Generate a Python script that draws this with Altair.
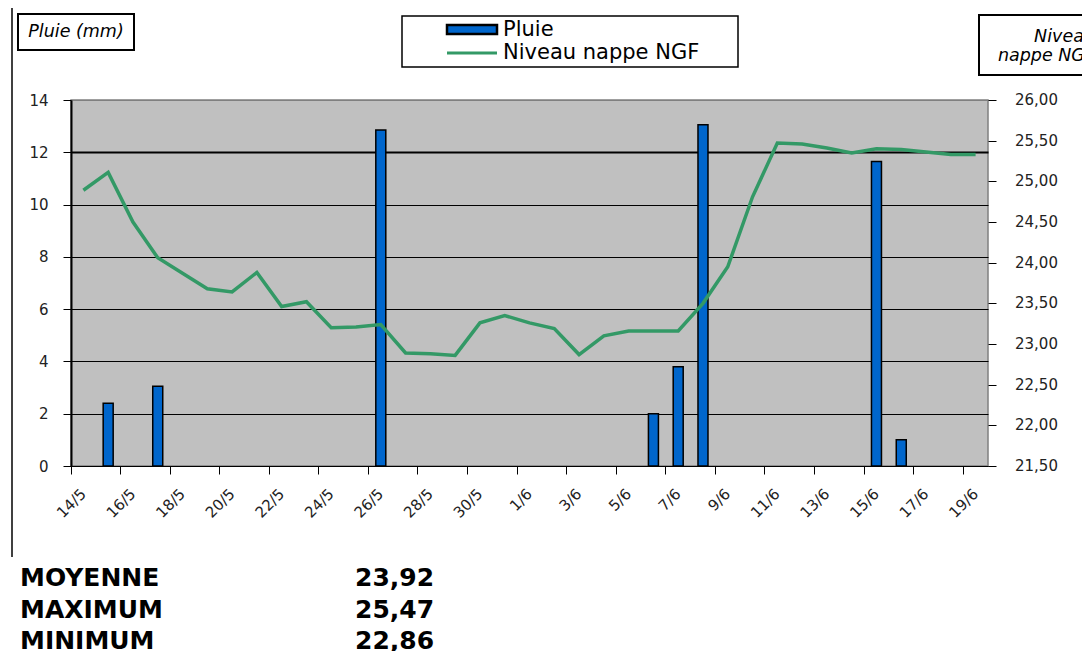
import altair as alt
import pandas as pd

# ---- data ----
dates = ["14/5", "15/5", "16/5", "17/5", "18/5", "19/5", "20/5", "21/5", "22/5",
         "23/5", "24/5", "25/5", "26/5", "27/5", "28/5", "29/5", "30/5", "31/5",
         "1/6", "2/6", "3/6", "4/6", "5/6", "6/6", "7/6", "8/6", "9/6", "10/6",
         "11/6", "12/6", "13/6", "14/6", "15/6", "16/6", "17/6", "18/6", "19/6"]
pluie = [0, 2.4, 0, 3.05, 0, 0, 0, 0, 0,
         0, 0, 0, 12.85, 0, 0, 0, 0, 0,
         0, 0, 0, 0, 0, 2.0, 3.8, 13.05, 0, 0,
         0, 0, 0, 0, 11.65, 1.0, 0, 0, 0]
nappe = [24.89, 25.11, 24.50, 24.06, 23.87, 23.68, 23.64, 23.88, 23.46,
         23.52, 23.20, 23.21, 23.24, 22.89, 22.88, 22.86, 23.26, 23.35,
         23.26, 23.19, 22.87, 23.10, 23.16, 23.16, 23.16, 23.50, 23.95, 24.81,
         25.47, 25.46, 25.41, 25.35, 25.40, 25.39, 25.36, 25.33, 25.33]
left_ticks = [0, 2, 4, 6, 8, 10, 12, 14]
right_ticks = [21.5, 22.0, 22.5, 23.0, 23.5, 24.0, 24.5, 25.0, 25.5, 26.0]
stat_labels = ["MOYENNE", "MAXIMUM", "MINIMUM"]
stat_values = ["23,92", "25,47", "22,86"]
series_names = ["Pluie", "Niveau nappe NGF"]

df = pd.DataFrame({"date": dates, "pluie": pluie, "nappe": nappe})
rt = pd.DataFrame({"v": right_ticks,
                   "lab": [f"{v:.2f}".replace(".", ",") for v in right_ticks]})
one = pd.DataFrame({"k": [0]})

W, H = 917, 366
FONT = "DejaVu Sans"
BLUE = "#0066CC"
GREEN = "#339966"
RIGHT_DOMAIN = [21.5, 26]

x_enc = alt.X(
    "date:N",
    sort=dates,
    scale=alt.Scale(type="band", domain=dates, paddingInner=0, paddingOuter=0),
    axis=alt.Axis(
        values=dates[::2], bandPosition=0,
        labelAngle=315, labelAlign="right", labelBaseline="middle",
        labelPadding=17, tickSize=8, tickColor="black", domainColor="black",
        domainWidth=1, labelFont=FONT, labelFontSize=15, labelColor="#222222",
        title=None, grid=False,
    ),
)

bars = alt.Chart(df).transform_filter("datum.pluie > 0").mark_bar(
    width=10, color=BLUE, stroke="black", strokeWidth=1.5
).encode(
    x=x_enc,
    y=alt.Y(
        "pluie:Q",
        scale=alt.Scale(domain=[0, 14], nice=False),
        axis=alt.Axis(
            values=left_ticks, title=None, tickSize=8, tickColor="black",
            domainColor="black", domainWidth=2, labelPadding=15,
            labelFont=FONT, labelFontSize=15, labelColor="#222222",
            grid=True,
            gridColor={"condition": {"test": "datum.value === 14", "value": "#808080"},
                       "value": "#000000"},
            gridWidth={"condition": {"test": "datum.value === 12", "value": 2},
                       "value": 1},
        ),
    ),
)

line = alt.Chart(df).mark_line(color=GREEN, strokeWidth=3.5).encode(
    x=x_enc,
    y=alt.Y(
        "nappe:Q",
        scale=alt.Scale(domain=RIGHT_DOMAIN, nice=False, zero=False),
        axis=alt.Axis(
            orient="right", values=right_ticks, title=None, grid=False,
            domain=False, ticks=True, tickSize=8, tickColor="black",
            labels=False,
        ),
    ),
)

# right-axis tick labels, placed through the same (right) scale
right_labels = alt.Chart(rt).mark_text(
    align="left", baseline="middle", font=FONT, fontSize=15, color="#222222"
).encode(
    x=alt.value(W + 27),
    y=alt.Y("v:Q", scale=alt.Scale(domain=RIGHT_DOMAIN, nice=False, zero=False),
            axis=None),
    text="lab:N",
)


def box(x1, x2, y1, y2, sw=2, fill="white", stroke="black"):
    return alt.Chart(one).mark_rect(fill=fill, stroke=stroke, strokeWidth=sw).encode(
        x=alt.value(x1), x2=alt.value(x2), y=alt.value(y1), y2=alt.value(y2))


def txt(s, x, y, size, align="left", italic=False, bold=False, baseline="middle"):
    return alt.Chart(one).mark_text(
        text=s, align=align, baseline=baseline, font=FONT, fontSize=size,
        fontStyle="italic" if italic else "normal",
        fontWeight="bold" if bold else "normal", color="black",
    ).encode(x=alt.value(x), y=alt.value(y))


deco = [
    # left page rule
    alt.Chart(one).mark_rule(color="black", strokeWidth=1.5).encode(
        x=alt.value(-59), y=alt.value(-92), y2=alt.value(457)),
    # left axis title box
    box(-53, 63, -86, -50),
    txt("Pluie (mm)", 5, -68, 17.5, align="center", italic=True),
    # legend box
    box(331, 667, -84, -33, sw=1.5),
    box(376, 426, -75, -66, sw=2.5, fill=BLUE),
    txt(series_names[0], 432, -70, 21),
    alt.Chart(one).mark_rule(color=GREEN, strokeWidth=3).encode(
        x=alt.value(376), x2=alt.value(426), y=alt.value(-47)),
    txt(series_names[1], 432, -47, 21),
    # right axis title box
    box(908, 1040, -85, -25),
    txt("Niveau", 1024, -63, 17.5, align="right", italic=True),
    txt("nappe NGF", 1024, -44, 17.5, align="right", italic=True),
]

stats = []
for i, (lab, val) in enumerate(zip(stat_labels, stat_values)):
    yb = 486 + 31.5 * i
    stats.append(txt(lab, -51, yb, 25, bold=True, baseline="alphabetic"))
    stats.append(txt(val, 284, yb, 25, bold=True, baseline="alphabetic"))

chart = alt.layer(bars, line, right_labels, *deco, *stats).resolve_scale(
    y="independent"
).properties(
    width=W, height=H, autosize="none",
    padding={"left": 63, "top": 92, "right": 94, "bottom": 185},
    background="white",
).configure_view(
    fill="#C0C0C0", stroke="#808080", strokeWidth=1.5
)

chart.save("out.html", embed_options={"renderer": "svg", "actions": False})
